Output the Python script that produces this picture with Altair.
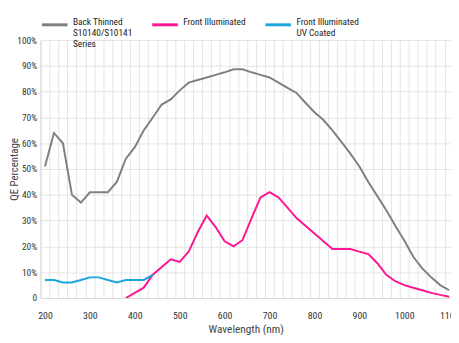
import altair as alt
import pandas as pd

# ---- data ----
back_wl = [200, 220, 240, 260, 280, 300, 320, 340, 360, 380, 400, 420, 440, 460, 480, 500,
           520, 540, 560, 580, 600, 620, 640, 660, 680, 700, 720, 740, 760, 780, 800, 820,
           840, 860, 880, 900, 920, 940, 960, 980, 1000, 1020, 1040, 1060, 1080, 1100]
back_qe = [51, 64, 60, 40, 37, 41, 41, 41, 45, 54, 58.5, 65, 70, 75, 77, 80.5,
           83.5, 84.5, 85.5, 86.5, 87.5, 88.7, 88.7, 87.5, 86.5, 85.5, 83.5, 81.5, 79.5, 75.7, 72, 69,
           65, 60.5, 56, 51, 45, 39.5, 34, 28, 22.3, 16, 11.5, 8, 5, 3]

front_wl = [380, 420, 440, 460, 480, 500, 520, 540, 560, 580, 600, 620, 640, 660, 680, 700,
            720, 740, 760, 780, 800, 820, 840, 860, 880, 900, 920, 940, 960, 980, 1000,
            1020, 1040, 1060, 1080, 1100]
front_qe = [0, 4, 9, 12, 15, 14, 18, 25.5, 32, 27.5, 22, 20, 22.5, 31, 39, 41,
            39, 35, 31, 28, 25, 22, 19, 19, 19, 18, 17, 13.5, 9, 6.5, 5,
            4, 3, 2, 1.2, 0.5]

uv_wl = [200, 220, 240, 260, 280, 300, 320, 340, 360, 380, 400, 420, 440]
uv_qe = [7, 7, 6, 6, 7, 8, 8, 7, 6, 7, 7, 7, 9]

# legend labels: '|' separates lines (padded to three lines so entries align)
series_names = ["Back Thinned|S10140/S10141|Series", "Front Illuminated| | ",
                "Front Illuminated|UV Coated| "]
series_colors = ["#808080", "#ff1493", "#1ba6dc"]

x_grid = list(range(190, 1111, 20))
x_labels = list(range(200, 1101, 100))
y_ticks = list(range(0, 101, 10))

frames = []
for name, wl, qe, order in [(series_names[0], back_wl, back_qe, 0),
                            (series_names[1], front_wl, front_qe, 1),
                            (series_names[2], uv_wl, uv_qe, 2)]:
    frames.append(pd.DataFrame({"wl": wl, "qe": qe, "series": name, "order": order}))
df = pd.concat(frames, ignore_index=True)

FONT = "Liberation Sans Narrow, Roboto Condensed, Arial Narrow, Liberation Sans, sans-serif"

x_values = sorted(set(x_grid) | set(x_labels))

chart = alt.Chart(df).mark_line(strokeWidth=2, clip=True).encode(
    x=alt.X("wl:Q",
            scale=alt.Scale(domain=[190, 1104], nice=False, zero=False),
            axis=alt.Axis(title="Wavelength (nm)", values=x_values, format="d",
                          labelExpr="datum.value % 100 == 0 ? datum.label : ''",
                          labelOverlap=False, ticks=False,
                          gridOpacity={"condition": {"test": "datum.value % 20 == 10", "value": 1},
                                       "value": 0},
                          labelPadding=13, titlePadding=3)),
    y=alt.Y("qe:Q",
            scale=alt.Scale(domain=[0, 100], nice=False),
            axis=alt.Axis(title="QE Percentage", values=y_ticks, ticks=False,
                          labelExpr="datum.value == 0 ? '0' : datum.value + '%'",
                          labelFontSize=9.5, titleFontSize=11,
                          labelPadding=4, titleX=-21)),
    color=alt.Color("series:N",
                    scale=alt.Scale(domain=series_names, range=series_colors),
                    legend=alt.Legend(title=None, orient="none", direction="horizontal",
                                      legendX=0, legendY=-30,
                                      symbolType="stroke", symbolSize=676,
                                      symbolStrokeWidth=3, labelOffset=4,
                                      columnPadding=13, padding=0,
                                      labelBaseline="alphabetic", labelFontSize=9.5,
                                      labelColor="#222", labelFont=FONT,
                                      labelExpr="split(datum.label, '|')")),
    order=alt.Order("order:Q"),
    detail="series:N",
).properties(
    width=417, height=262,
    autosize=alt.AutoSizeParams(type="none"),
    padding={"left": 33, "top": 30, "right": 0, "bottom": 35},
).configure_view(
    stroke=None
).configure_axis(
    gridColor="#e4e4e4", gridWidth=1,
    domainColor="#d8d8d8",
    labelFont=FONT, titleFont=FONT,
    labelFontSize=10, titleFontSize=11.5,
    labelColor="#333", titleColor="#444",
    titleFontWeight="normal",
)

chart.save("out.html", embed_options={"renderer": "svg", "actions": False})
